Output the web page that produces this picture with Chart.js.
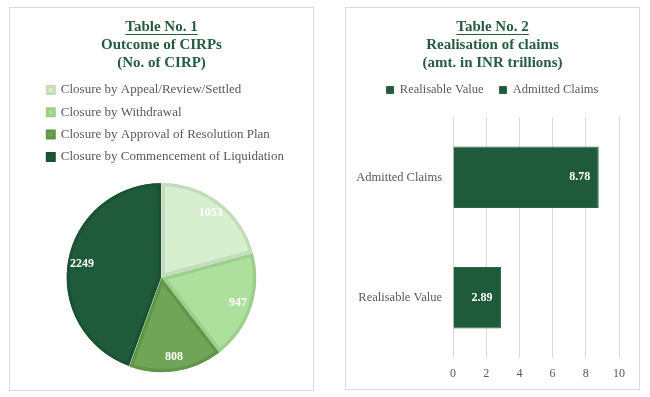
<!DOCTYPE html>
<html><head><meta charset="utf-8">
<script src="https://cdn.jsdelivr.net/npm/chart.js@4"></script>
<style>
html,body{margin:0;padding:0;background:#fff;width:650px;height:397px;overflow:hidden;}
.panel{position:absolute;box-sizing:border-box;border:1px solid #d9d9d9;background:#fff;}
#p1{left:9px;top:7px;width:305px;height:384px;}
#p2{left:345px;top:7px;width:295px;height:383px;}
.panel div{position:absolute;left:0;top:0;right:0;bottom:0;}
</style></head><body>
<div class="panel" id="p1"><div><canvas id="c1"></canvas></div></div>
<div class="panel" id="p2"><div><canvas id="c2"></canvas></div></div>
<script>
// ---- data ----
const pieTitle = ['Table No. 1', 'Outcome of CIRPs', '(No. of CIRP)'];
const pieLabels = ['Closure by Appeal/Review/Settled', 'Closure by Withdrawal', 'Closure by Approval of Resolution Plan', 'Closure by Commencement of Liquidation'];
const pieValues = [1053, 947, 808, 2249];

const barTitle = ['Table No. 2', 'Realisation of claims', '(amt. in INR trillions)'];
const barCategories = ['Admitted Claims', 'Realisable Value'];
const barSeriesNames = ['Realisable Value', 'Admitted Claims'];
const realisableValues = [null, 2.89];
const admittedValues = [8.78, null];
const xTickValues = [0, 2, 4, 6, 8, 10];

// ---- styles ----
const SERIF = "'Liberation Serif', 'Times New Roman', serif";
const TITLE_COLOR = '#255c3f';
const TEXT_GRAY = '#595959';
const pieFill = ['#d6efcf', '#addf9d', '#70a557', '#1f5b3b'];
const pieBorder = ['#c3dcbb', '#9dcf8c', '#619649', '#1b5234'];
const DARK = '#1f5b3b';

const underlinePlugin = {
  id: 'underlineTitle',
  afterDraw(chart) {
    const tb = chart.titleBlock;
    if (!tb) return;
    const opts = tb.options;
    const font = Chart.helpers.toFont(opts.font);
    const pad = Chart.helpers.toPadding(opts.padding);
    const ctx = chart.ctx;
    ctx.save();
    ctx.font = font.string;
    const w = ctx.measureText(opts.text[0]).width;
    const cx = (tb.left + tb.right) / 2;
    const y = Math.round(tb.top + pad.top + font.lineHeight / 2 + 7) + 0.5;
    ctx.strokeStyle = opts.color;
    ctx.lineWidth = 1;
    ctx.beginPath();
    ctx.moveTo(cx - w / 2, y);
    ctx.lineTo(cx + w / 2, y);
    ctx.stroke();
    ctx.restore();
  }
};

const pieLabelPlugin = {
  id: 'pieLabels',
  afterDatasetsDraw(chart) {
    const ctx = chart.ctx;
    const meta = chart.getDatasetMeta(0);
    const ds = chart.data.datasets[0];
    ctx.save();
    ctx.font = 'bold 12px ' + SERIF;
    ctx.fillStyle = '#ffffff';
    ctx.textAlign = 'center';
    ctx.textBaseline = 'middle';
    meta.data.forEach((arc, i) => {
      const p = arc.getProps(['x', 'y', 'startAngle', 'endAngle', 'outerRadius']);
      const mid = (p.startAngle + p.endAngle) / 2;
      const r = p.outerRadius * 0.86;
      ctx.fillText(String(ds.data[i]), p.x + Math.cos(mid) * r, p.y + Math.sin(mid) * r);
    });
    ctx.restore();
  }
};

const barLabelPlugin = {
  id: 'barLabels',
  afterDatasetsDraw(chart) {
    const ctx = chart.ctx;
    ctx.save();
    ctx.font = 'bold 12px ' + SERIF;
    ctx.fillStyle = '#ffffff';
    ctx.textAlign = 'center';
    ctx.textBaseline = 'middle';
    chart.data.datasets.forEach((ds, di) => {
      const meta = chart.getDatasetMeta(di);
      meta.data.forEach((bar, i) => {
        const v = ds.data[i];
        if (v === null || v === undefined) return;
        ctx.fillText(v.toFixed(2), bar.x - 19, bar.y);
      });
    });
    ctx.restore();
  }
};

const titleOpts = (text, padBottom) => ({
  display: true,
  text: text,
  color: TITLE_COLOR,
  font: { family: SERIF, size: 15, weight: 'bold', lineHeight: 1.2 },
  padding: { top: 10, bottom: padBottom }
});

new Chart(document.getElementById('c1'), {
  type: 'pie',
  data: {
    labels: pieLabels,
    datasets: [{
      data: pieValues,
      backgroundColor: pieFill,
      borderColor: pieBorder,
      borderWidth: 3,
      borderAlign: 'inner',
      offset: 3,
      radius: 94
    }]
  },
  options: {
    responsive: true,
    maintainAspectRatio: false,
    animation: false,
    layout: { padding: { top: 0, left: 28, right: 28, bottom: 8.4 } },
    plugins: {
      title: titleOpts(pieTitle, 2.2),
      legend: {
        position: 'top',
        align: 'start',
        labels: {
          boxWidth: 7, boxHeight: 7, padding: 9.3,
          color: TEXT_GRAY,
          font: { family: SERIF, size: 13 }
        }
      },
      tooltip: { enabled: false }
    }
  },
  plugins: [underlinePlugin, pieLabelPlugin]
});

new Chart(document.getElementById('c2'), {
  type: 'bar',
  data: {
    labels: barCategories,
    datasets: [
      { label: barSeriesNames[0], data: realisableValues, backgroundColor: DARK, borderColor: '#2b6847', borderWidth: 1, categoryPercentage: 1, barPercentage: 0.51 },
      { label: barSeriesNames[1], data: admittedValues, backgroundColor: DARK, borderColor: '#2b6847', borderWidth: 1, categoryPercentage: 1, barPercentage: 0.51 }
    ]
  },
  options: {
    indexAxis: 'y',
    responsive: true,
    maintainAspectRatio: false,
    animation: false,
    layout: { padding: { top: 0, left: 7, right: 7, bottom: 5 } },
    scales: {
      x: {
        type: 'linear',
        stacked: true,
        min: xTickValues[0],
        max: xTickValues[xTickValues.length - 1],
        ticks: { stepSize: xTickValues[1] - xTickValues[0], padding: 9, color: TEXT_GRAY, font: { family: SERIF, size: 12 } },
        grid: { color: '#d9d9d9', drawTicks: false },
        border: { display: false },
        afterFit: (s) => { s.height = 26; }
      },
      y: {
        stacked: true,
        ticks: { padding: 11, color: TEXT_GRAY, font: { family: SERIF, size: 12.5 } },
        grid: { display: false, drawTicks: false },
        border: { display: false },
        afterFit: (s) => { s.width = 100; }
      },
      xTop: {
        type: 'linear', position: 'top', display: true,
        ticks: { display: false }, grid: { display: false, drawTicks: false }, border: { display: false },
        afterFit: (s) => { s.height = 10.75; }
      },
      yRight: {
        type: 'linear', position: 'right', display: true,
        ticks: { display: false }, grid: { display: false, drawTicks: false }, border: { display: false },
        afterFit: (s) => { s.width = 13; }
      }
    },
    plugins: {
      title: titleOpts(barTitle, -4.25),
      legend: {
        position: 'top',
        labels: {
          boxWidth: 7, boxHeight: 7, padding: 16,
          color: TEXT_GRAY,
          font: { family: SERIF, size: 12.5 }
        }
      },
      tooltip: { enabled: false }
    }
  },
  plugins: [underlinePlugin, barLabelPlugin]
});
</script>
</body></html>
